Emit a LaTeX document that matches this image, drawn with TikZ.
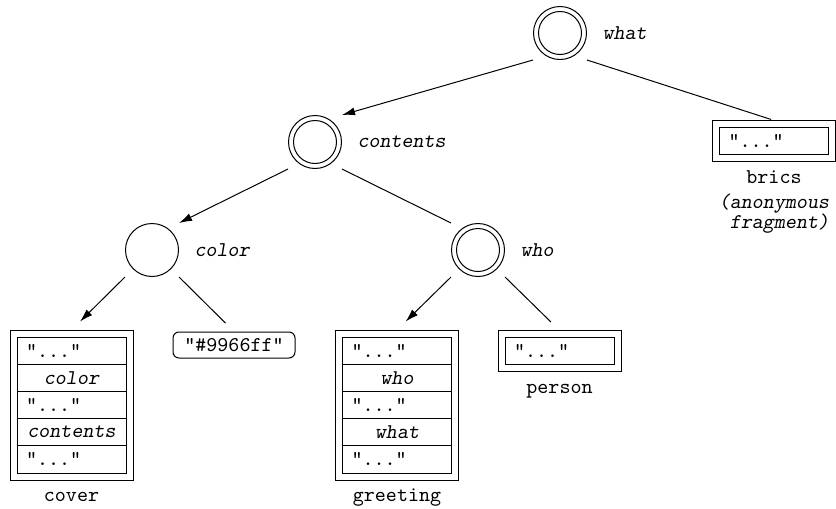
\documentclass[tikz,border=0pt]{standalone}
\usepackage{tikz}
\usetikzlibrary{positioning, fit, arrows.meta}

\tikzset{
    var/.style={minimum size=27pt, inner sep=0pt, outer sep=0pt,
        path picture={\draw (path picture bounding box.center) circle (13.25pt);}},
    fvar/.style={minimum size=27pt, inner sep=0pt, outer sep=0pt,
        path picture={\draw (path picture bounding box.center) circle (13.25pt) circle (10.75pt);}},
    varlabel/.style={font=\slshape, label distance=4pt},
    strrow/.style={draw, outer sep=0pt, minimum height=13.6pt, text width=45.5pt,
        inner xsep=4.5pt, inner ysep=0pt, align=left},
    varrow/.style={strrow, align=center, font=\slshape},
    fragbox/.style={draw, inner sep=3.5pt, outer sep=0pt},
    fragname/.style={inner sep=0pt, text height=6pt, text depth=2pt},
    fragnote/.style={inner sep=0pt, align=left, font=\slshape},
    hexbox/.style={draw, rounded corners=3pt, minimum width=61pt, minimum height=13pt, inner sep=0pt},
    link/.style={-{Latex[length=6.5pt, width=4pt]}}
}

\begin{document}
\ttfamily\fontsize{10.5}{10}\selectfont
\begin{tikzpicture}[x=0.5pt, y=-0.5pt, line width=0.5pt]
    \useasboundingbox (0,0) rectangle (836,509);

    % variables
    \node[fvar, label={[varlabel]right:what}] (what) at (560,33) {};
    \node[fvar, label={[varlabel]right:contents}] (contents) at (315,142) {};
    \node[var, label={[varlabel]right:color}] (color) at (152,250) {};
    \node[fvar, label={[varlabel]right:who}] (who) at (478,250) {};

    % cover
    \node[strrow] (cover1) at (71.5,350.6) {"..."};
    \node[varrow, below=0pt of cover1] (cover2) {color};
    \node[strrow, below=0pt of cover2] (cover3) {"..."};
    \node[varrow, below=0pt of cover3] (cover4) {contents};
    \node[strrow, below=0pt of cover4] (cover5) {"..."};
    \node[fragbox, fit=(cover1) (cover5)] (cover) {};
    \node[fragname, below=4.5pt of cover] (covername) {cover};

    % greeting
    \node[strrow] (greeting1) at (397,350.6) {"..."};
    \node[varrow, below=0pt of greeting1] (greeting2) {who};
    \node[strrow, below=0pt of greeting2] (greeting3) {"..."};
    \node[varrow, below=0pt of greeting3] (greeting4) {what};
    \node[strrow, below=0pt of greeting4] (greeting5) {"..."};
    \node[fragbox, fit=(greeting1) (greeting5)] (greeting) {};
    \node[fragname, below=4.5pt of greeting] (greetingname) {greeting};

    % person
    \node[strrow] (person1) at (559.5,351) {"..."};
    \node[fragbox, fit=(person1)] (person) {};
    \node[fragname, below=4.5pt of person] (personname) {person};

    % brics
    \node[strrow] (brics1) at (774,141) {"..."};
    \node[fragbox, fit=(brics1)] (brics) {};
    \node[fragname, below=4.5pt of brics] (bricsname) {brics};
    \node[fragnote, below=3pt of bricsname] (bricsnote) {(anonymous\\\hphantom{(}fragment)};

    \node[hexbox] (hex) at (234,345) {"\#9966ff"};

    % edges
    \draw[link] (what.south west) -- (contents.north east);
    \draw[shorten >=1.5pt] (what.south east) -- (brics.north);
    \draw[link] (contents.south west) -- (color.north east);
    \draw (contents.south east) -- (who.north west);
    \draw[link, shorten >=6pt] (color.south west) -- (cover.north);
    \draw[shorten >=6pt] (color.south east) -- (hex.north);
    \draw[link, shorten >=6pt] (who.south west) -- (greeting.north);
    \draw[shorten >=6pt] (who.south east) -- (person.north);
\end{tikzpicture}
\end{document}
